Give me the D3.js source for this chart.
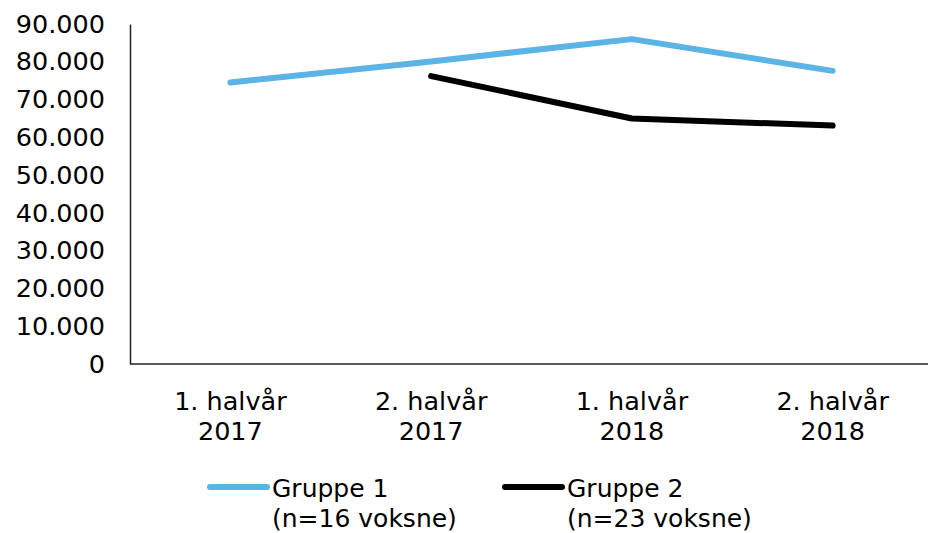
<!DOCTYPE html>
<html>
<head>
<meta charset="utf-8">
<script src="https://cdn.jsdelivr.net/npm/d3@7"></script>
<style>
  body { margin: 0; background: #fff; }
  svg { display: block; font-family: "DejaVu Sans", Verdana, sans-serif; }
</style>
</head>
<body>
<script>
// data
const periods = ["1. halvår|2017", "2. halvår|2017", "1. halvår|2018", "2. halvår|2018"];
const gruppe1 = [74500, 80100, 86000, 77600];
const gruppe2 = [null, 76200, 65000, 63100];
const yTicks = [0, 10000, 20000, 30000, 40000, 50000, 60000, 70000, 80000, 90000];
const seriesNames = ["Gruppe 1|(n=16 voksne)", "Gruppe 2|(n=23 voksne)"];
const seriesColors = ["#5bb4e5", "#000000"];

const svgWidth = 928;
const svgHeight = 533;
const plot = {left: 130, right: 933, top: 24, bottom: 364};

const svg = d3.select("body").append("svg")
    .attr("width", svgWidth)
    .attr("height", svgHeight);

const scaleX = d3.scalePoint()
    .domain(periods)
    .range([plot.left, plot.right])
    .padding(0.5);

const scaleY = d3.scaleLinear()
    .domain([0, 90000])
    .range([plot.bottom, plot.top]);

// norwegian number format: 90.000
const nb = d3.formatLocale({decimal: ",", thousands: ".", grouping: [3], currency: ["", " kr"]});
const fmt = nb.format(",.0f");

// y axis
const yAxis = svg.append("g")
    .attr("transform", `translate(${plot.left},0)`)
    .call(d3.axisLeft(scaleY).tickValues(yTicks).tickFormat(fmt).tickSize(0).tickPadding(25));
yAxis.select(".domain").attr("stroke", "#222").attr("stroke-width", 1.5);
yAxis.selectAll("text")
    .attr("font-size", 25.5)
    .attr("fill", "#000")
    .attr("font-family", "DejaVu Sans, Verdana, sans-serif");

// x axis line
svg.append("line")
    .attr("x1", plot.left)
    .attr("x2", plot.right)
    .attr("y1", plot.bottom)
    .attr("y2", plot.bottom)
    .attr("stroke", "#222")
    .attr("stroke-width", 1.5);

// x labels (two lines)
const xLabels = svg.append("g").selectAll("g")
    .data(periods)
    .join("g")
    .attr("transform", d => `translate(${scaleX(d)},0)`);
xLabels.each(function(d) {
    const parts = d.split("|");
    d3.select(this).selectAll("text")
        .data(parts)
        .join("text")
        .attr("x", 0)
        .attr("y", (p, i) => 410 + i * 30)
        .attr("text-anchor", "middle")
        .attr("font-size", 25.5)
        .text(p => p);
});

// lines
const line = d3.line()
    .defined(d => d != null)
    .x((d, i) => scaleX(periods[i]))
    .y(d => scaleY(d));

[gruppe1, gruppe2].forEach((vals, k) => {
    svg.append("path")
        .datum(vals)
        .attr("fill", "none")
        .attr("stroke", seriesColors[k])
        .attr("stroke-width", 6)
        .attr("stroke-linecap", "round")
        .attr("stroke-linejoin", "round")
        .attr("d", line);
});

// legend
const legendX = [210, 505];
seriesNames.forEach((name, k) => {
    const g = svg.append("g").attr("transform", `translate(${legendX[k]},487)`);
    g.append("line")
        .attr("x1", 0).attr("x2", 57)
        .attr("y1", 0).attr("y2", 0)
        .attr("stroke", seriesColors[k])
        .attr("stroke-width", 6)
        .attr("stroke-linecap", "round");
    const parts = name.split("|");
    g.selectAll("text")
        .data(parts)
        .join("text")
        .attr("x", 62)
        .attr("y", (p, i) => 10 + i * 30)
        .attr("font-size", 25)
        .text(p => p);
});
</script>
</body>
</html>
